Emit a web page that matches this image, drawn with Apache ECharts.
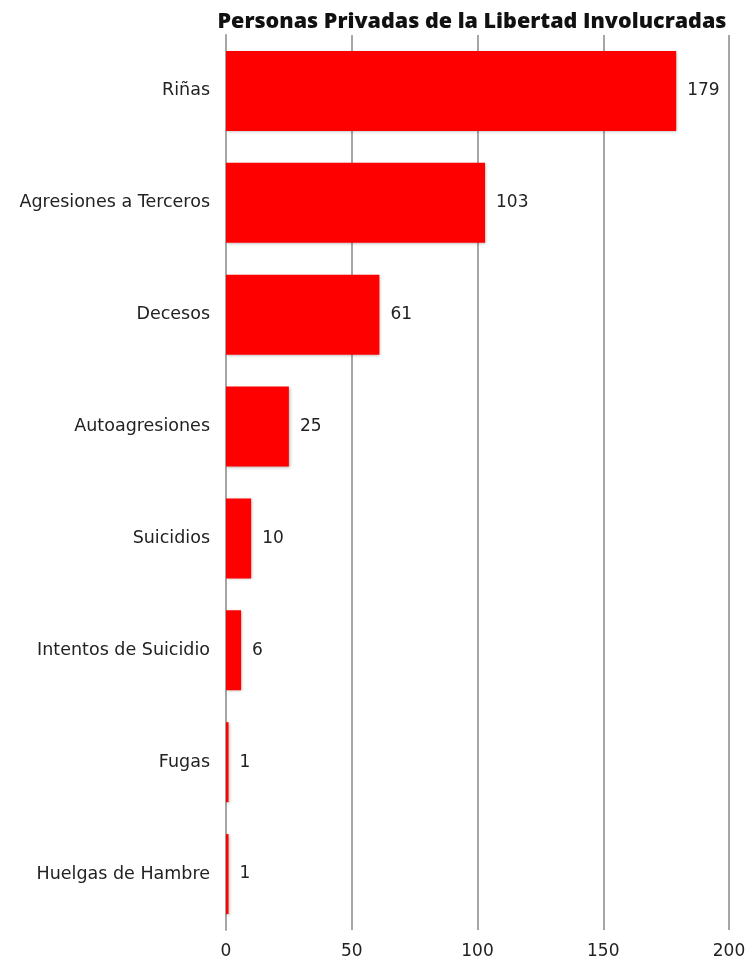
<!DOCTYPE html>
<html><head><meta charset="utf-8">
<script src="https://cdn.jsdelivr.net/npm/echarts@6/dist/echarts.min.js"></script>
<style>html,body{margin:0;padding:0;background:#fff}#c{width:751px;height:963px}</style>
</head><body><div id="c"></div>
<script>
const categories = ["Riñas","Agresiones a Terceros","Decesos","Autoagresiones","Suicidios","Intentos de Suicidio","Fugas","Huelgas de Hambre"];
const values = [179,103,61,25,10,6,1,1];
const xTicks = [0,50,100,150,200];
const title = "Personas Privadas de la Libertad Involucradas";

const FONT = 'DejaVu Sans';
const chart = echarts.init(document.getElementById('c'));
chart.setOption({
  animation:false,
  title:{text:title,left:467,textAlign:'center',top:6,textStyle:{fontFamily:'Open Sans',fontWeight:800,fontSize:21.5,color:'#111'}},
  grid:{left:226,right:22,top:35,bottom:33,containLabel:false},
  xAxis:{type:'value',min:xTicks[0],max:xTicks[xTicks.length-1],interval:50,
    axisLine:{show:false},axisTick:{show:false},
    axisLabel:{fontFamily:FONT,fontSize:17,color:'#222',margin:13},
    splitLine:{show:true,lineStyle:{color:'#a6a6a6',width:2}}},
  yAxis:{type:'category',data:categories,inverse:true,
    axisLine:{show:true,lineStyle:{color:'#a6a6a6',width:2}},axisTick:{show:false},
    axisLabel:{fontFamily:FONT,fontSize:17.5,color:'#222',margin:16}},
  series:[{type:'bar',data:values,barWidth:80,
    itemStyle:{color:'#ff0000',shadowColor:'rgba(0,0,0,0.3)',shadowBlur:3,shadowOffsetX:1,shadowOffsetY:1},
    label:{show:true,position:'right',distance:11,fontFamily:FONT,fontSize:17,color:'#222'}}]
});
</script></body></html>
